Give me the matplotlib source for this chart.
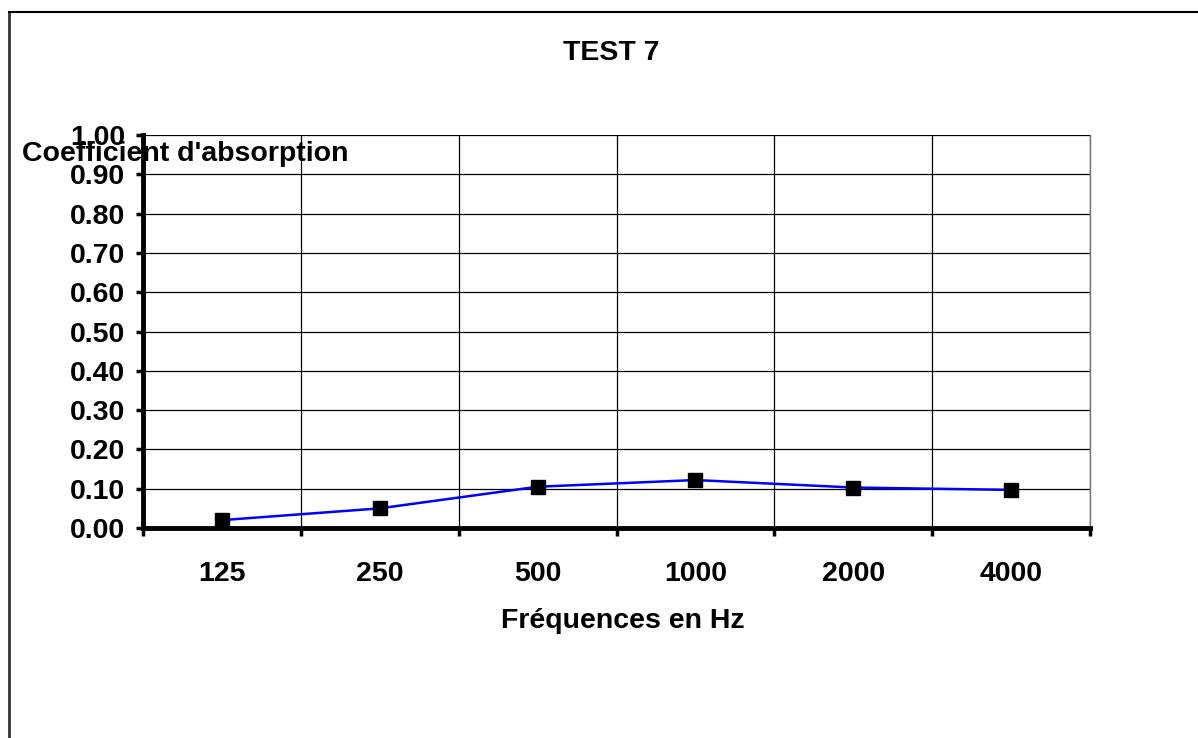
import matplotlib
matplotlib.use("Agg")
import matplotlib.pyplot as plt
from matplotlib.lines import Line2D
from matplotlib.ticker import FixedLocator, NullFormatter, FixedFormatter

categories = ["125", "250", "500", "1000", "2000", "4000"]
values = [0.02, 0.05, 0.105, 0.122, 0.103, 0.097]
yticks = [0.0, 0.1, 0.2, 0.3, 0.4, 0.5, 0.6, 0.7, 0.8, 0.9, 1.0]

plt.rcParams['font.family'] = ['Liberation Sans', 'DejaVu Sans']
plt.rcParams['font.weight'] = 'bold'

FS = 20.5

fig = plt.figure(figsize=(11.98, 7.38), dpi=100)
ax = fig.add_axes([143/1198, 210/738, (1090-143)/1198, (528-135)/738])

n = len(categories)
xs = [i + 0.5 for i in range(n)]
ax.plot(xs, values, color='#0000ff', lw=1.8, marker='s', markersize=10.5,
        markerfacecolor='black', markeredgecolor='black', zorder=5, clip_on=False)

ax.set_xlim(0, n)
ax.set_ylim(0, 1.0)

ax.xaxis.set_major_locator(FixedLocator(list(range(n + 1))))
ax.xaxis.set_major_formatter(NullFormatter())
ax.xaxis.set_minor_locator(FixedLocator(xs))
ax.xaxis.set_minor_formatter(FixedFormatter(categories))
ax.tick_params(axis='x', which='major', direction='out', length=6, width=2.5, color='black')
ax.tick_params(axis='x', which='minor', length=0, pad=23.5, labelsize=FS)

ax.set_yticks(yticks)
ax.set_yticklabels([f"{v:.2f}" for v in yticks])
ax.tick_params(axis='y', direction='out', length=5, width=2.5, labelsize=FS, pad=8)

ax.grid(True, which='major', color='black', lw=0.9)
ax.set_axisbelow(True)

for s in ['left', 'bottom']:
    ax.spines[s].set_linewidth(3.5)
    ax.spines[s].set_color('black')
ax.spines['top'].set_visible(False)
ax.spines['right'].set_linewidth(1)
ax.spines['right'].set_color('#777777')

fig.text(611/1198, 1 - 53/738, "TEST 7", ha='center', va='center', fontsize=FS, fontweight='bold')
fig.text(623/1198, 1 - 621/738, "Fréquences en Hz", ha='center', va='center', fontsize=FS, fontweight='bold')
fig.text(22/1198, 1 - 154/738, "Coefficient d'absorption", ha='left', va='center', fontsize=FS, fontweight='bold')

# figure frame
fig.add_artist(Line2D([9/1198, 9/1198], [0, 1 - 12/738], transform=fig.transFigure, color='#333333', lw=2))
fig.add_artist(Line2D([9/1198, 1], [1 - 12/738, 1 - 12/738], transform=fig.transFigure, color='black', lw=1.5))

fig.savefig("out.png", dpi=100)
